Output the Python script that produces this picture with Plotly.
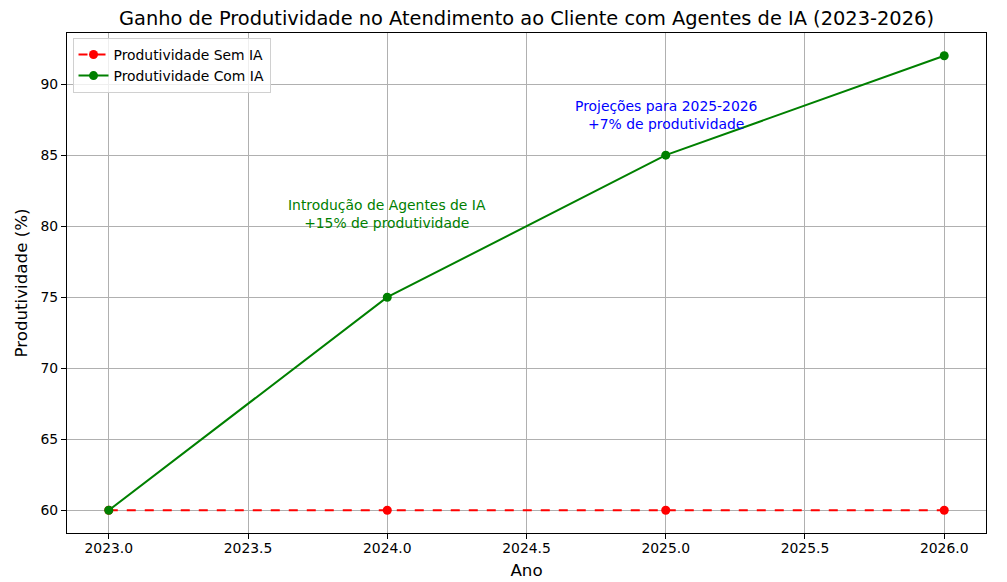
import plotly.graph_objects as go

anos = [2023, 2024, 2025, 2026]
sem_ia = [60, 60, 60, 60]
com_ia = [60, 75, 85, 92]

ann1_pos = (2024, 80)
ann1_text = "Introdução de Agentes de IA<br>+15% de produtividade"
ann2_pos = (2025, 87)
ann2_text = "Projeções para 2025-2026<br>+7% de produtividade"

FONT = "DejaVu Sans"
W, H = 999, 574  # page has 8px body margin

fig = go.Figure()
fig.add_trace(go.Scatter(x=anos, y=sem_ia, mode="lines+markers", name="Produtividade Sem IA",
                         line=dict(color="red", width=2, dash="dash"),
                         marker=dict(color="red", size=9)))
fig.add_trace(go.Scatter(x=anos, y=com_ia, mode="lines+markers", name="Produtividade Com IA",
                         line=dict(color="green", width=2),
                         marker=dict(color="green", size=9)))

fig.add_annotation(x=ann1_pos[0], y=ann1_pos[1], text=ann1_text, showarrow=False, yshift=-7,
                   xanchor="center", yanchor="bottom", font=dict(color="green", size=13.9, family=FONT))
fig.add_annotation(x=ann2_pos[0], y=ann2_pos[1], text=ann2_text, showarrow=False, yshift=-7,
                   xanchor="center", yanchor="bottom", font=dict(color="blue", size=13.9, family=FONT))

axis_common = dict(showline=True, mirror=True, linecolor="black", linewidth=1.1,
                   showgrid=True, gridcolor="#b0b0b0", gridwidth=1.1, zeroline=False,
                   ticks="outside", ticklen=5, tickwidth=1.1, tickcolor="black",
                   automargin=False,
                   tickfont=dict(size=13.9, family=FONT, color="black"))

fig.update_layout(
    width=W, height=H,
    margin=dict(l=59, r=21, t=25, b=49),
    paper_bgcolor="white", plot_bgcolor="white",
    font=dict(family=FONT, color="black"),
    title=dict(text="Ganho de Produtividade no Atendimento ao Cliente com Agentes de IA (2023-2026)",
               x=(59 + 978) / 2 / W, xanchor="center", y=1 - 10 / H, yanchor="middle",
               font=dict(size=19.4, family=FONT, color="black")),
    xaxis=dict(range=[2022.85, 2026.15], dtick=0.5, tick0=2023, tickformat=".1f",
               ticklabelstandoff=-3,
               title=dict(text="Ano", font=dict(size=16.7, family=FONT), standoff=9), **axis_common),
    yaxis=dict(range=[58.4, 93.6], dtick=5, tick0=60,
               title=dict(text="Produtividade (%)", font=dict(size=16.7, family=FONT), standoff=8), **axis_common),
    legend=dict(x=0.006, y=0.99, xanchor="left", yanchor="top",
                bgcolor="rgba(255,255,255,0.8)", bordercolor="#d0d0d0", borderwidth=1,
                font=dict(size=13.9, family=FONT), tracegroupgap=0, itemwidth=30),
    showlegend=True,
)

fig.write_html("out.html")
